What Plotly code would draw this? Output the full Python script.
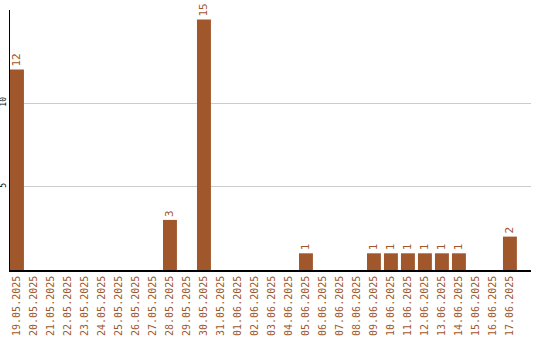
import plotly.graph_objects as go

dates = ["19.05.2025","20.05.2025","21.05.2025","22.05.2025","23.05.2025","24.05.2025",
         "25.05.2025","26.05.2025","27.05.2025","28.05.2025","29.05.2025","30.05.2025",
         "31.05.2025","01.06.2025","02.06.2025","03.06.2025","04.06.2025","05.06.2025",
         "06.06.2025","07.06.2025","08.06.2025","09.06.2025","10.06.2025","11.06.2025",
         "12.06.2025","13.06.2025","14.06.2025","15.06.2025","16.06.2025","17.06.2025"]
values = [12,0,0,0,0,0,0,0,0,3,0,15,0,0,0,0,0,1,0,0,0,1,1,1,1,1,1,0,0,2]
y_ticks = [5, 10]

xs = list(range(len(dates)))
labels = [str(v) if v > 0 else "" for v in values]

fig = go.Figure(go.Bar(
    x=xs, y=values, width=0.82,
    marker=dict(color="#A0572B", line=dict(width=0)),
    text=labels, textposition="outside", textangle=-90,
    textfont=dict(family="DejaVu Sans Mono", size=11, color="#A0572B"),
    cliponaxis=False,
))
fig.update_layout(
    width=540, height=340,
    margin=dict(l=10, r=9, t=10, b=70),
    paper_bgcolor="white", plot_bgcolor="white",
    showlegend=False,
    bargap=0.18,
)
fig.update_xaxes(
    range=[-0.41, 30.24], tickmode="array", tickvals=xs, ticktext=dates,
    tickangle=-90, tickfont=dict(family="DejaVu Sans Mono", size=10, color="#A0572B"),
    showline=True, linecolor="black", linewidth=1.5, showgrid=False, ticks="",
    automargin=False, zeroline=False,
)
fig.update_yaxes(
    range=[0, 15.57], tickmode="array", tickvals=y_ticks,
    tickangle=-90, tickfont=dict(family="DejaVu Sans Mono", size=8, color="black"),
    showline=True, linecolor="black", linewidth=1,
    showgrid=True, gridcolor="#cccccc", gridwidth=1, ticks="", ticklen=0,
    automargin=False, zeroline=False,
)
fig.write_html("out.html")
